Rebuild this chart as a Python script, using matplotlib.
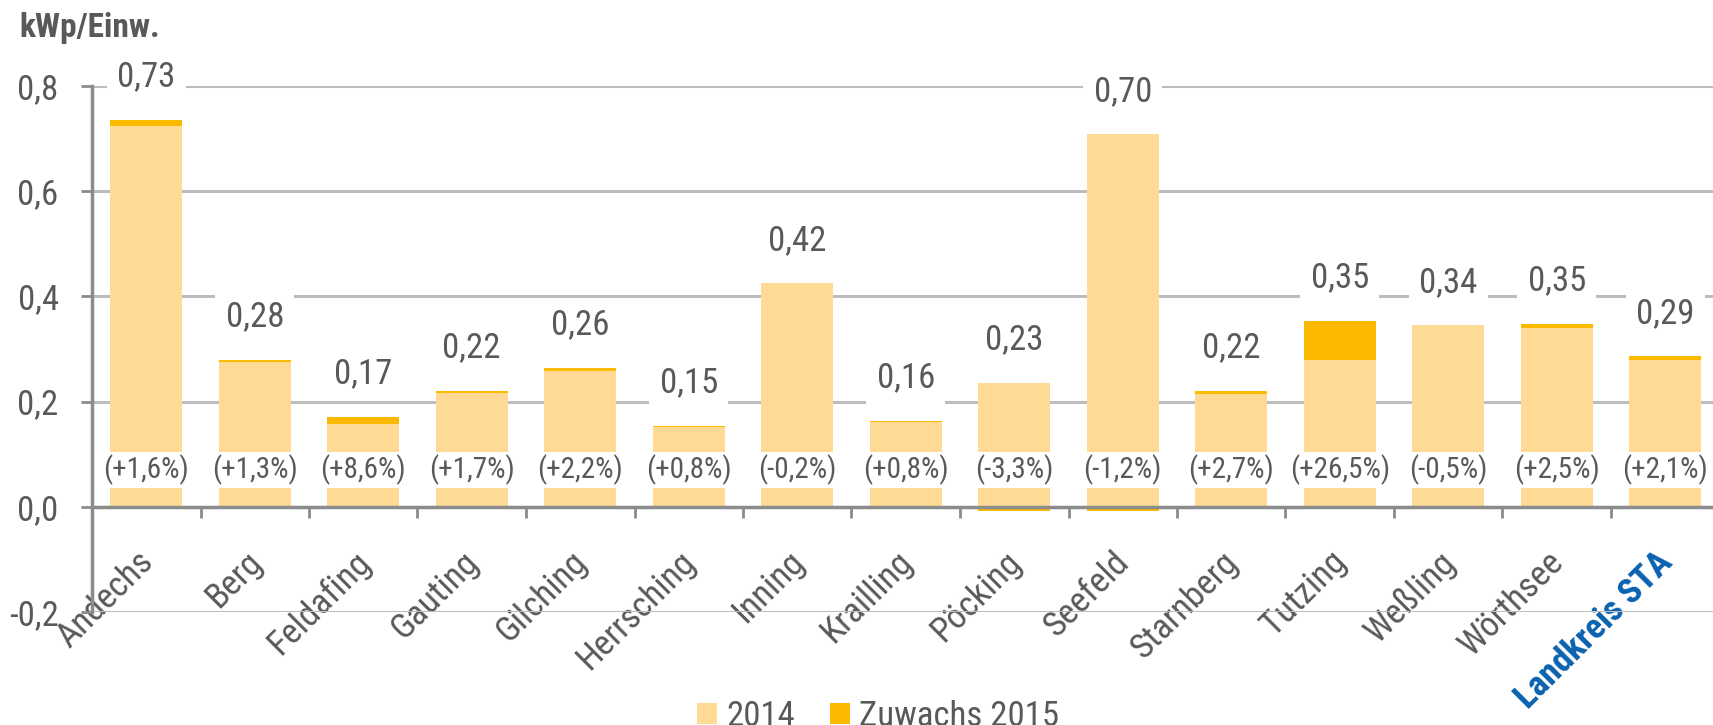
import numpy as np
import matplotlib
matplotlib.use("Agg")
import matplotlib.pyplot as plt
from matplotlib import font_manager as fm
from matplotlib.transforms import ScaledTranslation

# ---- pick a condensed sans if one is installed ----
_fonts = fm.fontManager.ttflist
_names = {f.name for f in _fonts}
FAMILY = None
STRETCH = 'normal'
NARROW = False
for cand in ['Liberation Sans Narrow', 'Roboto Condensed', 'Open Sans Condensed',
             'Noto Sans Condensed', 'DejaVu Sans Condensed', 'Arial Narrow']:
    if cand in _names:
        FAMILY, NARROW = cand, True
        break
if FAMILY is None:
    for fam in ['Roboto', 'Noto Sans', 'DejaVu Sans', 'Open Sans', 'Lato']:
        if any(f.name == fam and f.stretch in ('condensed', 'semi-condensed')
               for f in _fonts):
            FAMILY, STRETCH, NARROW = fam, 'condensed', True
            break
if FAMILY is None:
    FAMILY = 'Roboto'
plt.rcParams['font.family'] = [FAMILY, 'DejaVu Sans']
plt.rcParams['font.stretch'] = STRETCH

# ---- data ----
categories = ["Andechs", "Berg", "Feldafing", "Gauting", "Gilching", "Herrsching",
              "Inning", "Krailling", "Pöcking", "Seefeld", "Starnberg", "Tutzing",
              "Weßling", "Wörthsee", "Landkreis STA"]
val_2014 = [0.724, 0.276, 0.158, 0.216, 0.258, 0.152, 0.425, 0.162, 0.236,
            0.708, 0.215, 0.279, 0.345, 0.339, 0.280]
zuwachs_2015 = [0.0115, 0.0036, 0.0135, 0.0037, 0.0057, 0.0012, -0.0010, 0.0013,
                -0.0080, -0.0085, 0.0058, 0.0740, -0.0017, 0.0085, 0.0060]
total_labels = ["0,73", "0,28", "0,17", "0,22", "0,26", "0,15", "0,42", "0,16",
                "0,23", "0,70", "0,22", "0,35", "0,34", "0,35", "0,29"]
pct_labels = ["(+1,6%)", "(+1,3%)", "(+8,6%)", "(+1,7%)", "(+2,2%)", "(+0,8%)",
              "(-0,2%)", "(+0,8%)", "(-3,3%)", "(-1,2%)", "(+2,7%)", "(+26,5%)",
              "(-0,5%)", "(+2,5%)", "(+2,1%)"]
y_ticks = [-0.2, 0.0, 0.2, 0.4, 0.6, 0.8]
y_ticklabels = ["-0,2", "0,0", "0,2", "0,4", "0,6", "0,8"]
series_names = ["2014", "Zuwachs 2015"]
unit_label = "kWp/Einw."

# ---- style ----
LIGHT = '#FEDA94'
DARK = '#FBBA00'
GRAY_TXT = '#58595B'
GRID = '#BDBDBD'
AXIS = '#8C8C8C'
BLUE = '#0A62B0'

if NARROW:
    FS_VAL, FS_PCT, FS_TICK, FS_CAT, FS_LEG = 25, 21, 25, 25.5, 25
else:
    FS_VAL, FS_PCT, FS_TICK, FS_CAT, FS_LEG = 23, 18, 23, 22, 23

W, H = 1713, 725
fig = plt.figure(figsize=(W / 100, H / 100), dpi=100)
ax = fig.add_axes([92 / W, 1 - 612 / H, (1719.5 - 92) / W, (612 - 86) / H])

x = np.arange(len(categories))
base = np.array(val_2014)
zuw = np.array(zuwachs_2015)
bw = 0.667

b1 = ax.bar(x, base, width=bw, color=LIGHT, zorder=2, label=series_names[0])
b2 = ax.bar(x, zuw, width=bw, bottom=np.where(zuw >= 0, base, 0.0), color=DARK,
            zorder=2, label=series_names[1])

tops = np.maximum(base, base + zuw)
for i in range(len(categories)):
    ax.annotate(total_labels[i], (x[i], tops[i]), xytext=(0, 31),
                textcoords='offset points', ha='center', va='center',
                fontsize=FS_VAL, color=GRAY_TXT, zorder=5, annotation_clip=False,
                bbox=dict(boxstyle='square,pad=0.3', fc='white', ec='none'))
    ax.text(x[i], 0.0697, pct_labels[i], ha='center', va='center', fontsize=FS_PCT,
            color=GRAY_TXT, zorder=5,
            bbox=dict(boxstyle='square,pad=0.1', fc='white', ec='none'))

ax.set_xlim(-0.5, len(categories) - 0.5)
ax.set_ylim(-0.2, 0.8)
ax.set_yticks(y_ticks)
ax.set_yticklabels(y_ticklabels)

ax.yaxis.grid(True, color=GRID, lw=2.2)
ax.set_axisbelow(True)

for s in ['top', 'right']:
    ax.spines[s].set_visible(False)
ax.spines['left'].set_color(AXIS)
ax.spines['left'].set_linewidth(2.5)
ax.spines['bottom'].set_color(AXIS)
ax.spines['bottom'].set_linewidth(2.5)
ax.spines['bottom'].set_position(('data', 0))

ax.tick_params(axis='y', length=8, width=2, color=AXIS, labelsize=FS_TICK,
               labelcolor=GRAY_TXT, pad=16)
ax.set_xticks(x)
ax.set_xticks(np.arange(0.5, len(categories) - 0.5, 1), minor=True)
ax.tick_params(axis='x', which='major', length=0, labelsize=FS_CAT,
               labelcolor=GRAY_TXT, pad=19)
ax.tick_params(axis='x', which='minor', length=8, width=2, color=AXIS)
ax.set_xticklabels(categories)
labels = ax.get_xticklabels()
shift = ScaledTranslation(-10 / 100, -12 / 100, fig.dpi_scale_trans)
for lab in labels:
    lab.set_rotation(45)
    lab.set_ha('right')
    lab.set_va('top')
    lab.set_rotation_mode('anchor')
    lab.set_transform(lab.get_transform() + shift)
labels[-1].set_color(BLUE)
labels[-1].set_fontweight('bold')
labels[-1].set_bbox(dict(boxstyle='square,pad=0.35', fc='white', ec='none'))

fig.text(19 / W, 1 - 28 / H, unit_label, fontsize=24, fontweight='bold',
         color=GRAY_TXT, ha='left', va='center')

fig.legend(handles=[b1, b2], labels=series_names, loc='center',
           bbox_to_anchor=(0.5125, 0.012), ncol=2, frameon=False, fontsize=FS_LEG,
           handlelength=0.58, handleheight=0.58, handletextpad=0.26,
           columnspacing=1.0, labelcolor=GRAY_TXT, borderpad=0, borderaxespad=0)

fig.savefig('out.png', dpi=100)
